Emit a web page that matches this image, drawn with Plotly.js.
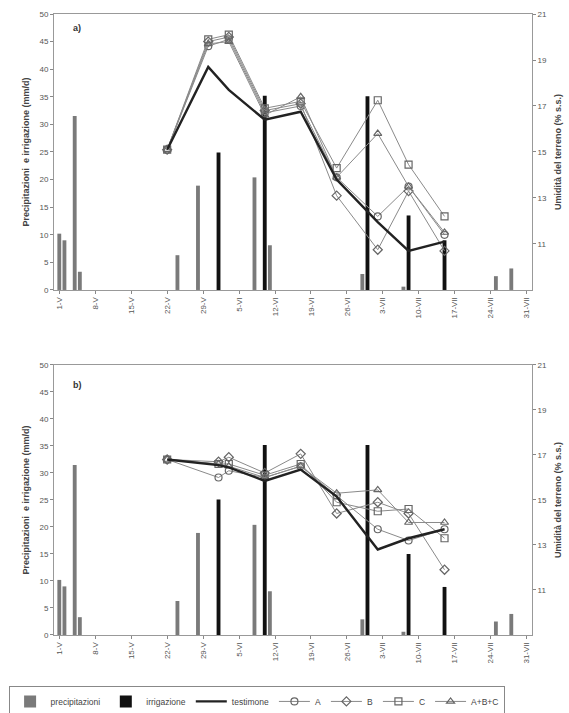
<!DOCTYPE html>
<html>
<head>
<meta charset="utf-8">
<script src="https://cdn.plot.ly/plotly-3.0.1.min.js"></script>
<style>html,body{margin:0;padding:0;background:#fff;}#chart{width:569px;height:713px;}</style>
</head>
<body>
<div id="chart"></div>
<script>
// ---- tick labels ----
const tickDates = ['2000-05-01','2000-05-08','2000-05-15','2000-05-22','2000-05-29','2000-06-05','2000-06-12','2000-06-19','2000-06-26','2000-07-03','2000-07-10','2000-07-17','2000-07-24','2000-07-31'];
const tickText = ['1-V','8-V','15-V','22-V','29-V','5-VI','12-VI','19-VI','26-VI','3-VII','10-VII','17-VII','24-VII','31-VII'];

// ---- precipitation (mm/d), same in both panels ----
const precipDates = ['2000-05-01','2000-05-02','2000-05-04','2000-05-05','2000-05-24','2000-05-28','2000-06-08','2000-06-11','2000-06-29','2000-07-07','2000-07-25','2000-07-28'];
const precipVals = [10.2, 9.0, 31.5, 3.3, 6.3, 18.9, 20.4, 8.1, 2.9, 0.6, 2.5, 3.9];

// ---- irrigation (mm/d) ----
const irrigDates = ['2000-06-01','2000-06-10','2000-06-30','2000-07-08','2000-07-15'];
const irrigValsA = [24.9, 35.2, 35.1, 13.5, 9.0];
const irrigValsB = [25.1, 35.2, 35.2, 15.0, 8.9];

// ---- soil moisture (% s.s.), panel a ----
const datesA = ['2000-05-22','2000-05-30','2000-06-03','2000-06-10','2000-06-17','2000-06-24','2000-07-02','2000-07-08','2000-07-15'];
const testimoneA = [15.1, 18.7, 17.7, 16.4, 16.75, 13.8, 11.95, 10.7, 11.1];
const serieA_a   = [15.1, 19.6, 19.9, 16.7, 17.0, 13.9, 12.2, 13.5, 11.4];
const serieB_a   = [15.1, 19.8, 20.0, 16.8, 17.1, 13.1, 10.75, 13.3, 10.7];
const serieC_a   = [15.1, 19.9, 20.1, 16.9, 17.2, 14.3, 17.25, 14.45, 12.2];
const serieABC_a = [15.1, 19.7, 19.8, 16.6, 17.4, 13.9, 15.8, 13.5, 11.5];

// ---- soil moisture (% s.s.), panel b ----
const datesB = ['2000-05-22','2000-06-01','2000-06-03','2000-06-10','2000-06-17','2000-06-24','2000-07-02','2000-07-08','2000-07-15'];
const testimoneB = [16.8, 16.55, 16.45, 15.85, 16.35, 15.15, 12.8, 13.3, 13.7];
const serieA_b   = [16.8, 16.0, 16.3, 16.0, 16.5, 15.2, 13.7, 13.2, 13.7];
const serieB_b   = [16.8, 16.7, 16.9, 16.2, 17.05, 14.4, 14.9, 14.4, 11.9];
const serieC_b   = [16.8, 16.6, 16.6, 16.1, 16.6, 14.9, 14.5, 14.6, 13.3];
const serieABC_b = [16.8, 16.6, 16.5, 16.0, 16.5, 15.3, 15.45, 14.0, 14.0];

const seriesNames = ['A','B','C','A+B+C'];
const symbols = ['circle-open','diamond-open','square-open','triangle-up-open'];

const DAY = 86400000;
const barW = 0.75 * DAY;
const grey = '#7a7a7a';
const lineGrey = '#8a8a8a';

function panelTraces(xa, ya, yr, irrig, dates, test, series, showLeg) {
  const t = [];
  t.push({type:'bar', x: precipDates, y: precipVals, width: barW, name:'precipitazioni',
          marker:{color:grey}, xaxis:xa, yaxis:ya, showlegend:showLeg, legendrank:1});
  t.push({type:'bar', x: irrigDates, y: irrig, width: barW, name:'irrigazione',
          marker:{color:'#111'}, xaxis:xa, yaxis:ya, showlegend:showLeg, legendrank:2});
  series.forEach((s, i) => {
    t.push({type:'scatter', mode:'lines+markers', x: dates, y: s, name: seriesNames[i],
            line:{color:lineGrey, width:1},
            marker:{symbol:symbols[i], size:7, color:'#666', line:{width:1.2, color:'#666'}},
            xaxis:xa, yaxis:yr, showlegend:showLeg, legendrank:4+i});
  });
  t.push({type:'scatter', mode:'lines', x: dates, y: test, name:'testimone',
          line:{color:'#222', width:2.4}, xaxis:xa, yaxis:yr, showlegend:showLeg, legendrank:3});
  return t;
}

const data = [].concat(
  panelTraces('x','y','y2', irrigValsA, datesA, testimoneA, [serieA_a, serieB_a, serieC_a, serieABC_a], true),
  panelTraces('x2','y3','y4', irrigValsB, datesB, testimoneB, [serieA_b, serieB_b, serieC_b, serieABC_b], false)
);

const font = {family:'Liberation Sans, Arial, sans-serif', size:8, color:'#555'};
const xRange = ['2000-04-29 23:15','2000-08-01 00:45'];
function xAxis(anchor) {
  return {type:'date', anchor: anchor, domain:[0,1], range: xRange,
          tickmode:'array', tickvals: tickDates, ticktext: tickText, tickangle:-90,
          ticks:'outside', ticklen:3, tickcolor:'#888', showgrid:false, zeroline:false,
          showline:true, linecolor:'#999', linewidth:1, mirror:true,
          tickfont:{family:font.family, size:8, color:'#555'}};
}
function yLeft(domain) {
  return {domain: domain, range:[0,50], dtick:5, ticks:'outside', ticklen:3, tickcolor:'#888',
          showline:true, linecolor:'#999', showgrid:false, zeroline:false,
          tickfont:{family:font.family, size:8, color:'#555'},
          title:{text:'<b>Precipitazioni  e irrigazione (mm/d)</b>', standoff:8,
                 font:{family:font.family, size:9, color:'#444'}}};
}
function yRight(over) {
  return {overlaying: over, side:'right', range:[9,21], tickmode:'array', tickvals:[11,13,15,17,19,21],
          ticks:'outside', ticklen:3, tickcolor:'#888', showline:true, linecolor:'#999',
          showgrid:false, zeroline:false,
          tickfont:{family:font.family, size:8, color:'#555'},
          title:{text:'<b>Umidità del terreno (% s.s.)</b>', standoff:8,
                 font:{family:font.family, size:9, color:'#444'}}};
}

const layout = {
  width:569, height:713,
  margin:{l:54, r:37, t:14, b:78, autoexpand:false},
  paper_bgcolor:'#fff', plot_bgcolor:'#fff',
  font: font,
  barmode:'overlay',
  xaxis: xAxis('y'),
  yaxis: yLeft([0.5556, 1]),
  yaxis2: yRight('y'),
  xaxis2: xAxis('y3'),
  yaxis3: yLeft([0, 0.4348]),
  yaxis4: yRight('y3'),
  showlegend:true,
  legend:{orientation:'h', x:-0.095, xanchor:'left', y:-0.082, yanchor:'top',
          bordercolor:'#888', borderwidth:1, font:{family:font.family, size:8.5, color:'#444'},
          itemwidth:31, traceorder:'normal', bgcolor:'#fff'},
  annotations:[
    {text:'<b>a)</b>', xref:'paper', yref:'paper', x:0.035, y:0.978, showarrow:false, xanchor:'left', yanchor:'middle',
     font:{family:font.family, size:9, color:'#333'}},
    {text:'<b>b)</b>', xref:'paper', yref:'paper', x:0.035, y:0.403, showarrow:false, xanchor:'left', yanchor:'middle',
     font:{family:font.family, size:9, color:'#333'}}
  ]
};

Plotly.newPlot('chart', data, layout, {staticPlot:true, displayModeBar:false});
</script>
</body>
</html>
